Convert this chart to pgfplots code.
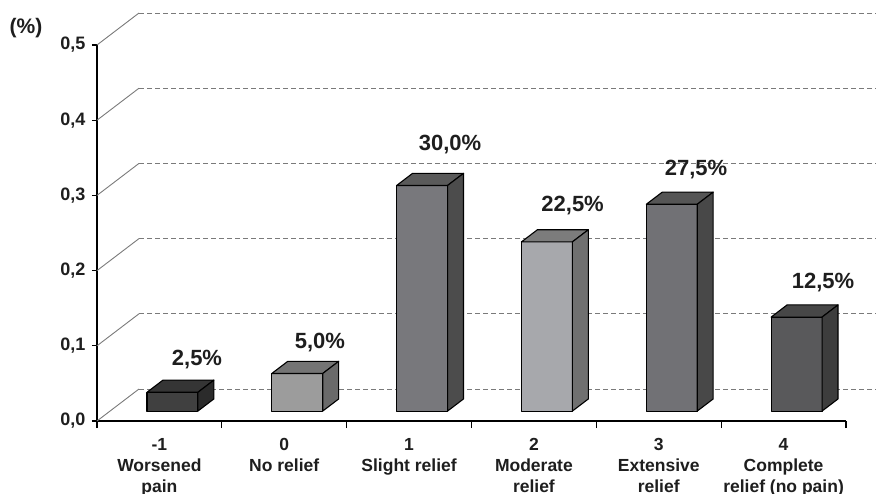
\documentclass[border=0pt]{standalone}
\usepackage{pgfplots}
\pgfplotsset{compat=1.18}
\usepackage{fontspec}
\setmainfont{Liberation Sans}
\definecolor{fA}{HTML}{404040}\definecolor{tA}{HTML}{353535}\definecolor{sA}{HTML}{2B2B2B}
\definecolor{fB}{HTML}{9C9C9C}\definecolor{tB}{HTML}{747474}\definecolor{sB}{HTML}{6A6A6A}
\definecolor{fC}{HTML}{78787C}\definecolor{tC}{HTML}{5A5A5A}\definecolor{sC}{HTML}{4C4C4C}
\definecolor{fD}{HTML}{A7A8AC}\definecolor{tD}{HTML}{7C7C7C}\definecolor{sD}{HTML}{707070}
\definecolor{fE}{HTML}{717175}\definecolor{tE}{HTML}{555555}\definecolor{sE}{HTML}{484848}
\definecolor{fF}{HTML}{59595B}\definecolor{tF}{HTML}{474747}\definecolor{sF}{HTML}{3D3D3D}
\definecolor{gridc}{HTML}{7A7A7A}
\definecolor{txt}{HTML}{1E1E1E}
% #1 category index, #2 value, #3 front, #4 top, #5 side colour
\newcommand{\tdbar}[5]{%
 \pgfmathsetmacro{\xa}{#1-0.204+0.1043}%
 \pgfmathsetmacro{\xb}{#1+0.204+0.1043}%
 \pgfmathsetmacro{\xc}{#1-0.204+0.2322}%
 \pgfmathsetmacro{\xd}{#1+0.204+0.2322}%
 \pgfmathsetmacro{\ya}{0.01319}%
 \pgfmathsetmacro{\yb}{#2+0.01319}%
 \pgfmathsetmacro{\yc}{0.02936}%
 \pgfmathsetmacro{\yd}{#2+0.02936}%
 \addplot[fill=#3, draw=black, line width=1.1pt, line join=round] coordinates {(\xa,\ya) (\xb,\ya) (\xb,\yb) (\xa,\yb)} -- cycle;
 \addplot[fill=#4, draw=black, line width=1.1pt, line join=round] coordinates {(\xa,\yb) (\xb,\yb) (\xd,\yd) (\xc,\yd)} -- cycle;
 \addplot[fill=#5, draw=black, line width=1.1pt, line join=round] coordinates {(\xb,\ya) (\xd,\yc) (\xd,\yd) (\xb,\yb)} -- cycle;
}
\newcommand{\grid}[1]{%
 \pgfmathsetmacro{\gy}{#1+0.04255}%
 \addplot[gridc, line width=0.9pt] coordinates {(-0.5,#1) (-0.1635,\gy)};
 \addplot[gridc, line width=0.9pt, dash pattern=on 5pt off 3pt] coordinates {(-0.1635,\gy) (5.85,\gy)};
}
\begin{document}
\begin{tikzpicture}
\begin{axis}[
 scale only axis, width=749pt, height=376pt,
 xmin=-0.5, xmax=5.5, ymin=0, ymax=0.5,
 clip=false,
 axis lines*=left,
 axis line style={black, line width=1.3pt},
 tick align=outside,
 major tick length=5pt, minor tick length=7pt,
 tick style={black, line width=1.1pt},
 ytick={0,0.1,0.2,0.3,0.4,0.5},
 yticklabel style={font=\fontsize{18}{20}\selectfont\bfseries, text=txt, xshift=-3pt,
   /pgf/number format/fixed, /pgf/number format/fixed zerofill, /pgf/number format/precision=1,
   /pgf/number format/use comma, /pgf/number format/assume math mode=true},
 xtick={0,1,2,3,4,5},
 major x tick style={draw=none},
 minor xtick={-0.5,0.5,1.5,2.5,3.5,4.5,5.5},
 xticklabels={{-1\\Worsened\\pain},{0\\No relief},{1\\Slight relief},{2\\Moderate\\relief},{3\\Extensive\\relief},{4\\Complete\\relief (no pain)}},
 xticklabel style={align=center, font=\fontsize{17.5}{21}\selectfont\bfseries, text=txt, yshift=-9pt},
 nodes near coords style={anchor=center, text=txt, font=\fontsize{22}{24}\selectfont\bfseries},
]
\grid{0}\grid{0.1}\grid{0.2}\grid{0.3}\grid{0.4}\grid{0.5}
\tdbar{0}{0.025}{fA}{tA}{sA}
\tdbar{1}{0.050}{fB}{tB}{sB}
\tdbar{2}{0.300}{fC}{tC}{sC}
\tdbar{3}{0.225}{fD}{tD}{sD}
\tdbar{4}{0.275}{fE}{tE}{sE}
\tdbar{5}{0.125}{fF}{tF}{sF}
\addplot[draw=none, mark=none, nodes near coords, point meta=explicit symbolic] coordinates {
 (0.301,0.0811) [2,5\%]
 (1.286,0.1037) [5,0\%]
 (2.328,0.367) [30,0\%]
 (3.310,0.2860) [22,5\%]
 (4.299,0.3338) [27,5\%]
 (5.316,0.1835) [12,5\%]
};
\node[font=\fontsize{21}{23}\selectfont\bfseries, text=txt] at (rel axis cs:0,1) [xshift=-71pt, yshift=17pt] {(\%)};
\coordinate (sw) at (rel axis cs:0,0);
\end{axis}
\pgfresetboundingbox
\path[use as bounding box] ([shift={(-97pt,-72pt)}]sw) rectangle ([shift={(779pt,421pt)}]sw);
\end{tikzpicture}
\end{document}
